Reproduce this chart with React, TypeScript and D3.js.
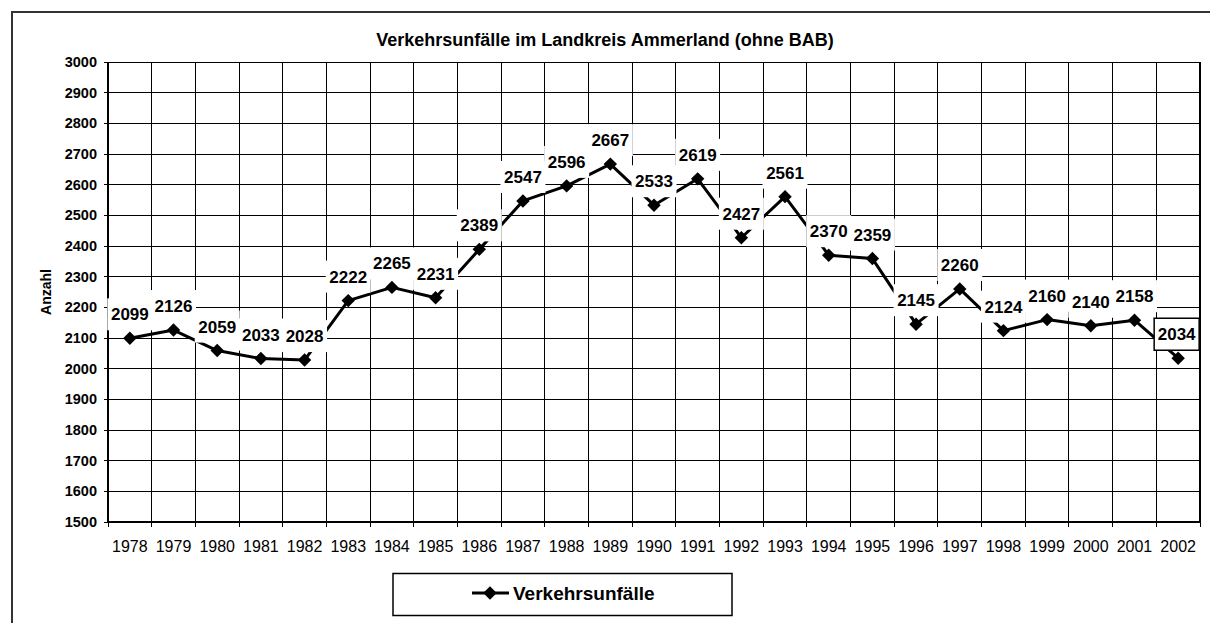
import React from 'react'
import { scaleBand, scaleLinear, line, symbol, symbolSquare, range } from 'd3'

const years = ['1978', '1979', '1980', '1981', '1982', '1983', '1984', '1985', '1986', '1987', '1988', '1989', '1990',
  '1991', '1992', '1993', '1994', '1995', '1996', '1997', '1998', '1999', '2000', '2001', '2002']
const unfaelle = [2099, 2126, 2059, 2033, 2028, 2222, 2265, 2231, 2389, 2547, 2596, 2667, 2533,
  2619, 2427, 2561, 2370, 2359, 2145, 2260, 2124, 2160, 2140, 2158, 2034]
const yTicks = range(1500, 3001, 100)
const title = 'Verkehrsunfälle im Landkreis Ammerland (ohne BAB)'
const seriesName = 'Verkehrsunfälle'
const yTitle = 'Anzahl'

const font = 'Liberation Sans, Arial, sans-serif'

export default function App() {
  const margin = { top: 62, right: 1200, bottom: 522, left: 108 }

  const x = scaleBand<string>().domain(years).range([margin.left, margin.right]).padding(0)
  const y = scaleLinear().domain([1500, 3000]).range([margin.bottom, margin.top])

  const data = years.map((yr, i) => ({ yr, v: unfaelle[i] }))
  const cx = (d: { yr: string }) => (x(d.yr) as number) + x.bandwidth() / 2

  const path = line<{ yr: string; v: number }>()
    .x(d => cx(d))
    .y(d => y(d.v))(data) as string

  const diamond = symbol(symbolSquare, 90)() as string
  const boundaries = years.map(yr => x(yr) as number).concat([margin.right])

  return (
    <svg width={1210} height={623} style={{ position: 'absolute', left: 0, top: 0, background: '#fff' }}
      fontFamily={font}>
      {/* chart border, runs off the picture right and bottom */}
      <rect x={12} y={12} width={1250} height={700} fill="#fff" stroke="#333" strokeWidth={2} />

      <text x={605} y={46} textAnchor="middle" fontWeight="bold" fontSize={18}>{title}</text>

      {/* grid */}
      <g shapeRendering="crispEdges" stroke="#000" strokeWidth={1}>
        {yTicks.map(t => (
          <line key={'h' + t} x1={margin.left - 4} x2={margin.right} y1={y(t)} y2={y(t)} />
        ))}
        {boundaries.map((b, i) => (
          <line key={'v' + i} x1={b} x2={b} y1={margin.top} y2={margin.bottom + 5} />
        ))}
      </g>
      <g shapeRendering="crispEdges" stroke="#000" strokeWidth={2}>
        <line x1={margin.left} x2={margin.left} y1={margin.top} y2={margin.bottom + 1} />
        <line x1={margin.left} x2={margin.right + 1} y1={margin.bottom} y2={margin.bottom} />
        <line x1={margin.right} x2={margin.right} y1={margin.top} y2={margin.bottom} />
      </g>

      {yTicks.map(t => (
        <text key={'yl' + t} x={97} y={y(t) + 5} textAnchor="end" fontWeight="bold" fontSize={14.5}>{t}</text>
      ))}
      {years.map(yr => (
        <text key={'xl' + yr} x={(x(yr) as number) + x.bandwidth() / 2} y={552} textAnchor="middle" fontSize={16}>{yr}</text>
      ))}
      <text transform="translate(51,292) rotate(-90)" textAnchor="middle" fontWeight="bold" fontSize={14}>{yTitle}</text>

      {/* series */}
      <path d={path} fill="none" stroke="#000" strokeWidth={3} strokeLinejoin="round" />
      {data.map(d => (
        <path key={'m' + d.yr} d={diamond} transform={`translate(${cx(d)},${y(d.v)}) rotate(45)`} fill="#000" />
      ))}

      {/* data labels with white boxes */}
      {data.map((d, i) => {
        const last = i === data.length - 1
        const lx = last ? cx(d) - 1.5 : cx(d)
        const ly = y(d.v) - 24
        return (
          <g key={'dl' + d.yr}>
            <rect x={lx - 22.5} y={ly - 16} width={45} height={32} fill="#fff"
              stroke={last ? '#000' : 'none'} strokeWidth={1.5} />
            <text x={lx} y={ly + 6} textAnchor="middle" fontWeight="bold" fontSize={17}>{d.v}</text>
          </g>
        )
      })}

      {/* legend */}
      <rect x={393} y={573.5} width={339} height={42} fill="#fff" stroke="#000" strokeWidth={1.5} />
      <line x1={472} x2={509} y1={593} y2={593} stroke="#000" strokeWidth={3} />
      <path d={diamond} transform="translate(490,593) rotate(45)" fill="#000" />
      <text x={513} y={600} fontWeight="bold" fontSize={19}>{seriesName}</text>
    </svg>
  )
}
